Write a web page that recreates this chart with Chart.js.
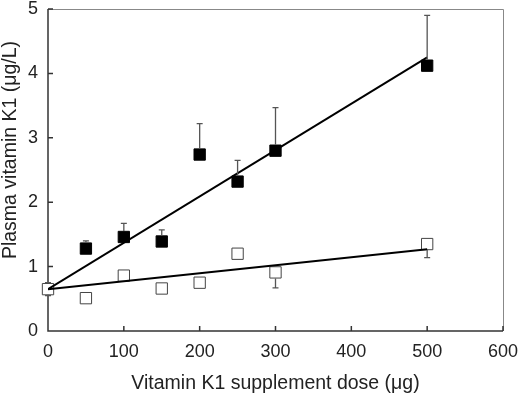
<!DOCTYPE html>
<html>
<head>
<meta charset="utf-8">
<script src="https://cdn.jsdelivr.net/npm/chart.js@4"></script>
<style>
  body { margin: 0; background: #fff; }
  #wrap { width: 520px; height: 395px; }
</style>
</head>
<body>
<div id="wrap"><canvas id="doseChart"></canvas></div>
<script>
// dose levels (µg)
const doses = [0, 50, 100, 150, 200, 250, 300, 500];

// filled squares: plasma vitamin K1 (µg/L) with upper SD
const filledVals = [0.65, 1.28, 1.46, 1.39, 2.74, 2.32, 2.80, 4.12];
const filledErr  = [0.10, 0.12, 0.21, 0.18, 0.48, 0.33, 0.67, 0.78];

// open squares with lower SD
const openVals = [0.65, 0.51, 0.86, 0.66, 0.75, 1.20, 0.91, 1.35];
const openErr  = [0.10, 0, 0, 0, 0, 0, 0.24, 0.21];

// regression line end points
const fitX = [0, 500];
const fitFilled = [0.65, 4.25];
const fitOpen = [0.65, 1.27];

const xTicks = [0, 100, 200, 300, 400, 500, 600];
const yTicks = [0, 1, 2, 3, 4, 5];
const yTitle = 'Plasma vitamin K1 (μg/L)';
const FONT = 'Liberation Sans, Arial, sans-serif';

const toPts = (xs, ys) => xs.map((x, i) => ({ x: x, y: ys[i] }));

// error bars, frame, inward ticks and the y title
const extras = {
    id: 'extras',
    beforeDatasetsDraw(chart) {
        const ctx = chart.ctx;
        const xs = chart.scales.x, ys = chart.scales.y;
        const a = chart.chartArea;
        ctx.save();
        ctx.strokeStyle = '#888';
        ctx.lineWidth = 1;
        ctx.beginPath();
        ctx.moveTo(a.left, a.top + 0.5); ctx.lineTo(a.right + 0.5, a.top + 0.5);
        ctx.lineTo(a.right + 0.5, a.bottom);
        ctx.stroke();
        ctx.strokeStyle = '#333';
        ctx.lineWidth = 1.5;
        ctx.beginPath();
        ctx.moveTo(a.left, a.top); ctx.lineTo(a.left, a.bottom); ctx.lineTo(a.right, a.bottom);
        xTicks.forEach(t => {
            const px = xs.getPixelForValue(t);
            ctx.moveTo(px, a.bottom); ctx.lineTo(px, a.bottom - 5);
        });
        yTicks.forEach(t => {
            const py = ys.getPixelForValue(t);
            ctx.moveTo(a.left, py); ctx.lineTo(a.left + 5, py);
        });
        ctx.stroke();
        ctx.restore();
    },
    afterDatasetsDraw(chart) {
        const ctx = chart.ctx;
        const xs = chart.scales.x, ys = chart.scales.y;
        ctx.save();
        ctx.strokeStyle = '#555';
        ctx.lineWidth = 1.3;
        const off = 6 / (ys.getPixelForValue(0) - ys.getPixelForValue(1));
        const bar = (x, y0, y1) => {
            const px = xs.getPixelForValue(x);
            const p0 = ys.getPixelForValue(y0), p1 = ys.getPixelForValue(y1);
            ctx.beginPath();
            ctx.moveTo(px, p0); ctx.lineTo(px, p1);
            ctx.moveTo(px - 3, p1); ctx.lineTo(px + 3, p1);
            ctx.stroke();
        };
        doses.forEach((d, i) => {
            if (filledErr[i] > 0) bar(d, filledVals[i] + off, filledVals[i] + filledErr[i]);
            if (openErr[i] > 0) bar(d, openVals[i] - off, openVals[i] - openErr[i]);
        });
        ctx.restore();
    },
    afterDraw(chart) {
        const ctx = chart.ctx;
        ctx.save();
        ctx.translate(11, 150);
        ctx.rotate(-Math.PI / 2);
        ctx.fillStyle = '#222';
        ctx.font = '19.5px ' + FONT;
        ctx.textAlign = 'center';
        ctx.textBaseline = 'middle';
        ctx.fillText(yTitle, 0, 0);
        ctx.restore();
    }
};

new Chart(document.getElementById('doseChart').getContext('2d'), {
    type: 'scatter',
    data: {
        datasets: [
            {
                type: 'line',
                data: toPts(fitX, fitFilled),
                borderColor: '#000',
                borderWidth: 2,
                pointRadius: 0,
                fill: false
            },
            {
                type: 'line',
                data: toPts(fitX, fitOpen),
                borderColor: '#000',
                borderWidth: 2,
                pointRadius: 0,
                fill: false
            },
            {
                data: toPts(doses, openVals),
                pointStyle: 'rect',
                pointRadius: 8,
                backgroundColor: '#fff',
                borderColor: '#444',
                borderWidth: 1,
                clip: false
            },
            {
                data: toPts(doses.slice(1), filledVals.slice(1)),
                pointStyle: 'rect',
                pointRadius: 8,
                backgroundColor: '#000',
                borderColor: '#000',
                borderWidth: 1,
                clip: false
            }
        ]
    },
    options: {
        responsive: true,
        maintainAspectRatio: false,
        animation: false,
        layout: { padding: { top: 6, right: 17, left: 0, bottom: 0 } },
        plugins: { legend: { display: false }, tooltip: { enabled: false } },
        scales: {
            x: {
                type: 'linear',
                min: 0, max: 600,
                afterBuildTicks: s => { s.ticks = xTicks.map(v => ({ value: v })); },
                afterFit: s => { s.height = 64; s.paddingLeft = 0; s.paddingRight = 0; },
                grid: { display: false, drawTicks: false, tickLength: 0 },
                border: { display: false },
                ticks: { color: '#222', padding: 10, maxRotation: 0,
                         font: { family: FONT, size: 18 } },
                title: { display: true, text: 'Vitamin K1 supplement dose (μg)', color: '#222',
                         padding: { top: 4, bottom: 0 },
                         font: { family: FONT, size: 19.5 } }
            },
            y: {
                min: 0, max: 5,
                afterBuildTicks: s => { s.ticks = yTicks.map(v => ({ value: v })); },
                afterFit: s => { s.width = 48; s.paddingTop = 0; s.paddingBottom = 0; },
                grid: { display: false, drawTicks: false, tickLength: 0 },
                border: { display: false },
                ticks: { color: '#222', padding: 10,
                         font: { family: FONT, size: 18 } }
            }
        }
    },
    plugins: [extras]
});
</script>
</body>
</html>
